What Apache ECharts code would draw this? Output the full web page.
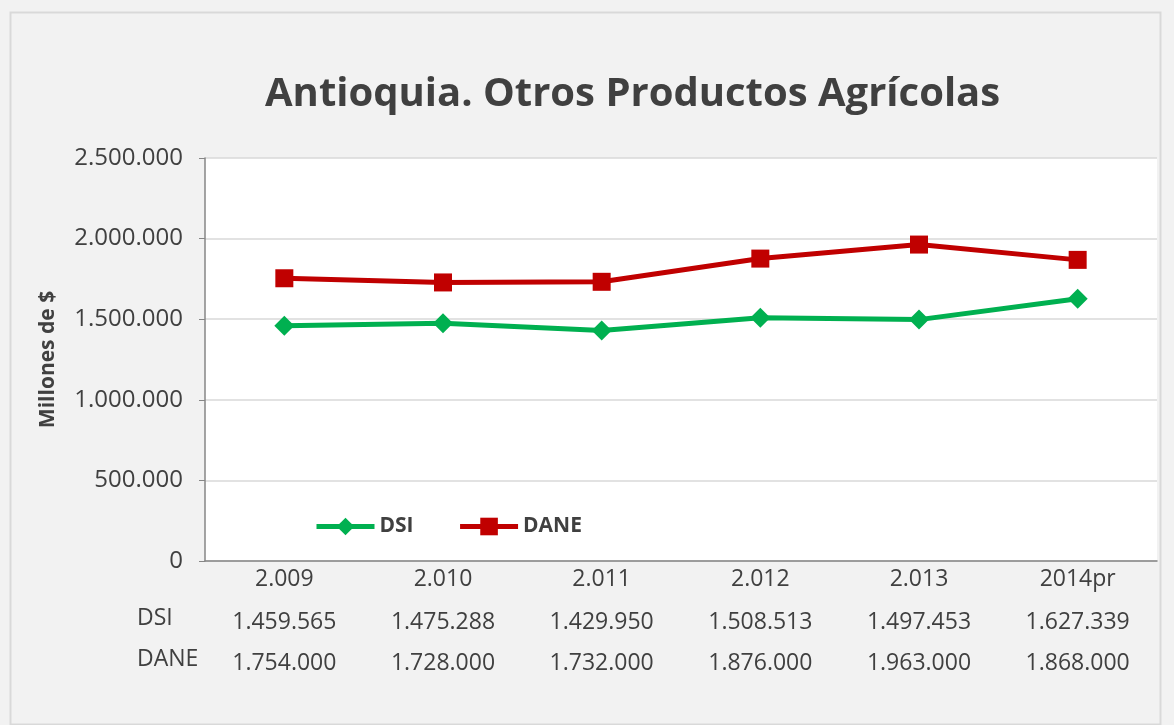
<!DOCTYPE html>
<html>
<head>
<meta charset="utf-8">
<script src="https://cdn.jsdelivr.net/npm/echarts@6/dist/echarts.min.js"></script>
<style>
html, body { margin: 0; padding: 0; background: #fff; }
#chart { width: 1174px; height: 725px; }
</style>
</head>
<body>
<div id="chart"></div>
<script>
var years = ['2.009', '2.010', '2.011', '2.012', '2.013', '2014pr'];
var dsi = [1459565, 1475288, 1429950, 1508513, 1497453, 1627339];
var dane = [1754000, 1728000, 1732000, 1876000, 1963000, 1868000];
var yTicks = { min: 0, max: 2500000, step: 500000 };

var font = 'Open Sans';
var txt = '#404040';

function fmt(v) {
	return String(v).replace(/\B(?=(\d{3})+(?!\d))/g, '.');
}

var myChart = echarts.init(document.getElementById('chart'));
var option = {
	backgroundColor: '#f2f2f2',
	textStyle: { fontFamily: font },
	title: {
		text: 'Antioquia. Otros Productos Agrícolas',
		left: 260,
		top: 70,
		textStyle: { fontSize: 40, fontWeight: 'bold', color: txt, fontFamily: font }
	},
	legend: {
		left: 309,
		top: 511,
		itemWidth: 58,
		itemHeight: 22,
		itemGap: 44,
		lineStyle: { width: 5 },
		textStyle: { fontSize: 21, fontWeight: 'bold', color: txt },
		data: ['DSI', 'DANE']
	},
	grid: {
		left: 205,
		right: 17,
		top: 158,
		bottom: 164,
		backgroundColor: '#fff',
		show: true,
		borderWidth: 0
	},
	xAxis: [{
		type: 'category',
		data: years,
		axisLine: { lineStyle: { color: '#868686', width: 1.5 } },
		axisTick: { show: false },
		axisLabel: { fontSize: 23, color: txt, margin: 7 }
	}, {
		type: 'category',
		position: 'bottom',
		offset: 42,
		data: dsi.map(fmt),
		axisLine: { show: false },
		axisTick: { show: false },
		axisLabel: { fontSize: 23, color: txt }
	}, {
		type: 'category',
		position: 'bottom',
		offset: 83,
		data: dane.map(fmt),
		axisLine: { show: false },
		axisTick: { show: false },
		axisLabel: { fontSize: 23, color: txt }
	}],
	yAxis: {
		type: 'value',
		min: yTicks.min,
		max: yTicks.max,
		interval: yTicks.step,
		name: 'Millones de $',
		nameLocation: 'middle',
		nameGap: 146,
		nameTextStyle: { fontSize: 21, fontWeight: 'bold', color: txt },
		axisLine: { show: true, lineStyle: { color: '#868686', width: 1.5 } },
		axisTick: { show: true, length: 6, lineStyle: { color: '#868686' } },
		axisLabel: { fontSize: 24, color: txt, margin: 22, formatter: fmt },
		splitLine: { lineStyle: { color: '#d9d9d9', width: 1.5 } }
	},
	graphic: [{
		type: 'rect',
		left: 8, top: 10,
		shape: { width: 1150, height: 712 },
		style: { fill: 'none', stroke: '#d9d9d9', lineWidth: 2 },
		silent: true
	}, {
		type: 'text', left: 137, top: 607,
		style: { text: 'DSI', fontSize: 23, fill: txt, fontFamily: font }
	}, {
		type: 'text', left: 137, top: 648,
		style: { text: 'DANE', fontSize: 23, fill: txt, fontFamily: font }
	}],
	series: [{
		name: 'DSI',
		type: 'line',
		data: dsi,
		symbol: 'diamond',
		symbolSize: 20,
		lineStyle: { color: '#00b050', width: 5 },
		itemStyle: { color: '#00b050' }
	}, {
		name: 'DANE',
		type: 'line',
		data: dane,
		symbol: 'rect',
		symbolSize: 18,
		lineStyle: { color: '#c00000', width: 5 },
		itemStyle: { color: '#c00000' }
	}]
};
myChart.setOption(option);
</script>
</body>
</html>
